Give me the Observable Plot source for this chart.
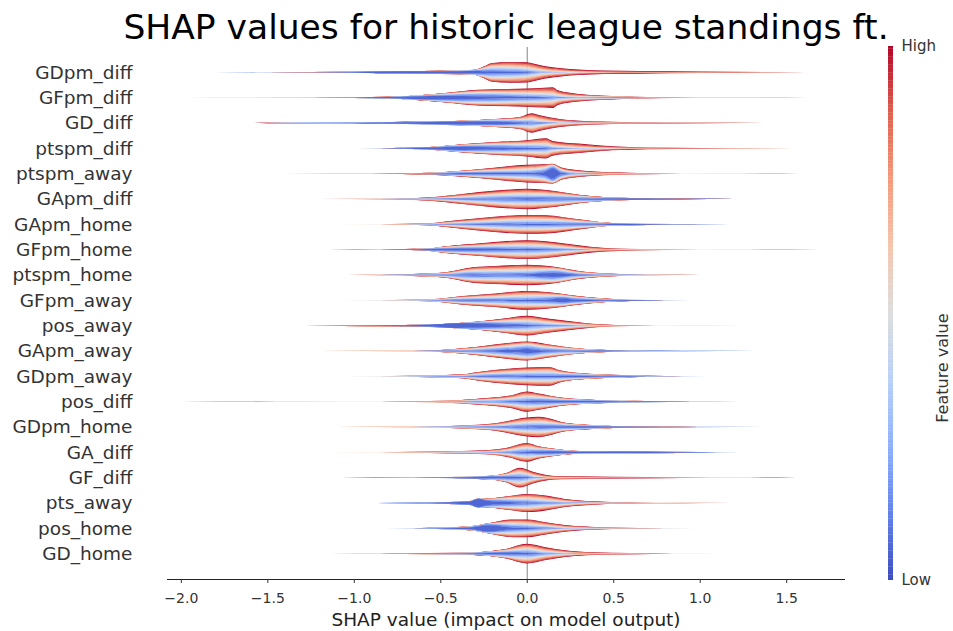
<!DOCTYPE html>
<html>
<head>
<meta charset="utf-8">
<script src="https://cdn.jsdelivr.net/npm/d3@7"></script>
<script src="https://cdn.jsdelivr.net/npm/@observablehq/plot@0.6"></script>
<style>
  html, body { margin: 0; padding: 0; background: #fff; }
  #chart { position: relative; width: 953px; height: 631px; font-family: "DejaVu Sans", sans-serif; }
  #chart svg { position: absolute; top: 0; }
  .txt { position: absolute; white-space: nowrap; line-height: 1; transform: translateX(-50%); }
</style>
</head>
<body>
<div id="chart">
  <div class="txt" id="title" style="left:506px; top:10px; font-size:34.5px; color:#000;">SHAP values for historic league standings ft.</div>
  <div class="txt" id="xlabel" style="left:506px; top:611px; font-size:18.5px; color:#222;">SHAP value (impact on model output)</div>
</div>
<script>
// Features, top to bottom
const features = ["GDpm_diff","GFpm_diff","GD_diff","ptspm_diff","ptspm_away","GApm_diff","GApm_home","GFpm_home","ptspm_home","GFpm_away","pos_away","GApm_away","GDpm_away","pos_diff","GDpm_home","GA_diff","GF_diff","pts_away","pos_home","GD_home"];

// Violin profiles: [SHAP value, relative density, share of low feature values]
const GDpm_diff = [[-2.06,0.002,0.5],[-1.5,0.013,0.7],[-1.0,0.05,0.85],[-0.85,0.12,0.9],[-0.6,0.14,0.88],[-0.4,0.18,0.85],[-0.3,0.25,0.8],[-0.25,0.57,0.62],[-0.2,0.93,0.55],[-0.1,1.03,0.5],[0,1.0,0.45],[0.05,0.83,0.4],[0.1,0.63,0.35],[0.2,0.4,0.3],[0.3,0.27,0.2],[0.45,0.17,0.15],[0.65,0.13,0.1],[1.0,0.07,0.12],[1.4,0.022,0.15],[1.84,0.002,0.3]];
const GFpm_diff = [[-1.97,0.002,0.5],[-1.5,0.01,0.6],[-1.0,0.03,0.8],[-0.8,0.08,0.9],[-0.66,0.2,0.85],[-0.47,0.47,0.72],[-0.28,0.77,0.62],[0,0.9,0.5],[0.1,0.98,0.45],[0.15,1.03,0.4],[0.18,0.72,0.4],[0.3,0.37,0.35],[0.49,0.17,0.5],[0.56,0.12,0.6],[0.7,0.06,0.25],[1.0,0.02,0.2],[1.3,0.01,0.3],[1.62,0.002,0.5]];
const GD_diff = [[-1.97,0.002,0.5],[-1.5,0.013,0.7],[-1.0,0.05,0.85],[-0.85,0.08,0.9],[-0.56,0.14,0.88],[-0.37,0.23,0.85],[-0.18,0.4,0.7],[-0.04,0.6,0.55],[0.03,0.97,0.45],[0.07,0.8,0.4],[0.19,0.4,0.3],[0.38,0.17,0.2],[0.6,0.08,0.12],[1.0,0.03,0.15],[1.4,0.01,0.2],[1.84,0.002,0.4]];
const ptspm_diff = [[-1.11,0.002,0.6],[-0.85,0.02,0.75],[-0.56,0.13,0.85],[-0.37,0.4,0.75],[-0.18,0.63,0.62],[0,0.8,0.52],[0.11,1.0,0.45],[0.15,0.73,0.4],[0.3,0.47,0.3],[0.49,0.2,0.2],[0.7,0.08,0.15],[1.0,0.03,0.15],[1.35,0.01,0.25],[1.73,0.002,0.4]];
const ptspm_away = [[-1.4,0.002,0.5],[-0.9,0.012,0.6],[-0.66,0.05,0.7],[-0.47,0.17,0.68],[-0.28,0.43,0.6],[0,0.87,0.5],[0.1,0.93,0.6],[0.15,0.97,0.8],[0.2,0.6,0.6],[0.3,0.33,0.4],[0.49,0.13,0.3],[0.7,0.05,0.2],[1.1,0.012,0.25],[1.58,0.002,0.4]];
const GApm_diff = [[-1.2,0.002,0.4],[-0.85,0.02,0.3],[-0.56,0.17,0.4],[-0.37,0.5,0.45],[-0.18,0.83,0.5],[0,1.0,0.5],[0.17,0.77,0.52],[0.3,0.43,0.58],[0.46,0.17,0.8],[0.6,0.09,0.88],[0.9,0.04,0.75],[1.2,0.012,0.6],[1.53,0.002,0.5]];
const GApm_home = [[-1.41,0.002,0.4],[-0.85,0.02,0.3],[-0.56,0.1,0.4],[-0.47,0.27,0.45],[-0.28,0.6,0.48],[0,0.93,0.5],[0.11,0.9,0.5],[0.3,0.5,0.55],[0.49,0.13,0.8],[0.7,0.06,0.8],[1.0,0.02,0.65],[1.36,0.002,0.5]];
const GFpm_home = [[-1.14,0.002,0.5],[-0.85,0.02,0.7],[-0.56,0.13,0.8],[-0.47,0.33,0.68],[-0.28,0.6,0.58],[0,0.93,0.5],[0.11,0.83,0.48],[0.22,0.6,0.42],[0.38,0.27,0.25],[0.53,0.12,0.2],[0.8,0.04,0.3],[1.2,0.012,0.3],[1.69,0.002,0.4]];
const ptspm_home = [[-1.04,0.002,0.4],[-0.85,0.02,0.4],[-0.66,0.1,0.5],[-0.47,0.27,0.55],[-0.31,0.77,0.55],[-0.18,0.9,0.5],[0,1.0,0.5],[0.15,0.83,0.65],[0.3,0.4,0.55],[0.49,0.13,0.5],[0.7,0.04,0.4],[1.0,0.012,0.45],[1.34,0.002,0.5]];
const GFpm_away = [[-1.29,0.002,0.4],[-0.85,0.02,0.35],[-0.56,0.1,0.5],[-0.37,0.43,0.55],[-0.18,0.67,0.52],[0,0.93,0.5],[0.11,0.83,0.55],[0.2,0.65,0.68],[0.26,0.5,0.65],[0.46,0.17,0.65],[0.6,0.06,0.8],[0.8,0.02,0.8],[1.1,0.002,0.6]];
const pos_away = [[-1.29,0.002,0.6],[-0.85,0.05,0.85],[-0.56,0.12,0.9],[-0.41,0.25,0.97],[-0.28,0.4,0.82],[-0.12,0.73,0.6],[0,0.97,0.5],[0.11,0.73,0.45],[0.3,0.33,0.35],[0.42,0.13,0.3],[0.6,0.04,0.25],[0.9,0.012,0.3],[1.25,0.002,0.5]];
const GApm_away = [[-1.2,0.002,0.5],[-0.66,0.02,0.5],[-0.47,0.13,0.55],[-0.28,0.43,0.55],[-0.08,0.83,0.6],[0,0.93,0.65],[0.11,0.7,0.55],[0.26,0.33,0.6],[0.42,0.13,0.7],[0.6,0.05,0.8],[0.9,0.02,0.75],[1.33,0.002,0.6]];
const GDpm_away = [[-1.29,0.002,0.4],[-0.85,0.02,0.35],[-0.56,0.1,0.5],[-0.37,0.2,0.52],[-0.28,0.43,0.52],[0,0.87,0.5],[0.13,0.93,0.5],[0.19,0.6,0.55],[0.34,0.27,0.65],[0.49,0.15,0.7],[0.7,0.05,0.6],[0.9,0.02,0.55],[1.19,0.002,0.5]];
const pos_diff = [[-2.0,0.0015,0.4],[-1.3,0.01,0.35],[-0.85,0.02,0.3],[-0.47,0.1,0.45],[-0.28,0.3,0.48],[-0.08,0.67,0.5],[0,1.0,0.5],[0.07,0.8,0.55],[0.2,0.4,0.62],[0.4,0.17,0.75],[0.69,0.06,0.85],[0.95,0.02,0.8],[1.23,0.002,0.6]];
const GDpm_home = [[-1.1,0.002,0.5],[-0.66,0.02,0.5],[-0.37,0.15,0.52],[-0.18,0.37,0.5],[0,0.93,0.5],[0.07,1.0,0.5],[0.22,0.43,0.6],[0.4,0.17,0.75],[0.6,0.07,0.8],[1.0,0.03,0.75],[1.4,0.01,0.7],[1.83,0.002,0.6]];
const GA_diff = [[-1.5,0.002,0.4],[-0.85,0.02,0.25],[-0.47,0.1,0.3],[-0.28,0.17,0.35],[-0.12,0.43,0.45],[0,0.93,0.5],[0.07,0.6,0.58],[0.17,0.33,0.7],[0.3,0.13,0.8],[0.49,0.1,0.88],[0.88,0.06,0.85],[1.1,0.02,0.75],[1.38,0.002,0.6]];
const GF_diff = [[-1.08,0.002,0.5],[-0.66,0.02,0.65],[-0.37,0.1,0.8],[-0.2,0.2,0.78],[-0.12,0.45,0.62],[-0.04,0.97,0.5],[0.04,0.55,0.4],[0.12,0.25,0.25],[0.2,0.15,0.2],[0.49,0.1,0.12],[0.9,0.04,0.15],[1.2,0.012,0.2],[1.56,0.002,0.4]];
const pts_away = [[-0.87,0.002,0.8],[-0.56,0.05,0.9],[-0.33,0.2,0.9],[-0.28,0.45,0.97],[-0.23,0.45,0.8],[-0.1,0.7,0.6],[0,0.9,0.5],[0.11,0.73,0.45],[0.22,0.4,0.4],[0.38,0.17,0.3],[0.6,0.05,0.25],[0.9,0.02,0.3],[1.19,0.002,0.5]];
const pos_home = [[-0.98,0.002,0.5],[-0.66,0.02,0.6],[-0.47,0.1,0.7],[-0.33,0.2,0.75],[-0.22,0.5,0.85],[-0.08,0.87,0.55],[0,0.87,0.5],[0.11,0.6,0.45],[0.22,0.33,0.35],[0.34,0.17,0.3],[0.5,0.06,0.3],[0.8,0.02,0.35],[1.17,0.002,0.5]];
const GD_home = [[-1.14,0.002,0.5],[-0.85,0.02,0.6],[-0.56,0.06,0.7],[-0.31,0.13,0.72],[-0.12,0.47,0.62],[0,0.97,0.5],[0.11,0.63,0.4],[0.22,0.33,0.35],[0.38,0.13,0.25],[0.6,0.06,0.25],[0.85,0.02,0.3],[1.11,0.002,0.5]];

const profiles = [GDpm_diff, GFpm_diff, GD_diff, ptspm_diff, ptspm_away, GApm_diff, GApm_home, GFpm_home, ptspm_home, GFpm_away, pos_away, GApm_away, GDpm_away, pos_diff, GDpm_home, GA_diff, GF_diff, pts_away, pos_home, GD_home];

const xTicks = [-2.0, -1.5, -1.0, -0.5, 0.0, 0.5, 1.0, 1.5];

// coolwarm colour stops
const coolwarm = ["#3b4cc0", "#6282ea", "#8db0fe", "#b8d0f9", "#dddddd", "#f5c4ad", "#f49a7b", "#de604d", "#b40426"];
const colorScale = {
  type: "linear",
  domain: coolwarm.map((_, i) => i / (coolwarm.length - 1)),
  range: coolwarm,
  interpolate: "rgb"
};

// Layered violins: band k holds the samples whose feature value lies between
// t(k-1) and t(k). Bands are drawn outermost first; each reaches slightly under
// its inner neighbour so no hairline gaps show, while thin tails stay faint.
const nLayers = 16;
const halfRow = 0.4;   // half-width of a unit-density violin, in rows
const tuck = 0.012;    // most a band reaches under the next inner band, in rows
const n = features.length;
const bands = [];
features.forEach((name, i) => {
  const row = n - 1 - i;
  for (let k = nLayers - 1; k >= 0; k--) {
    const tIn = k / nLayers, tOut = (k + 1) / nLayers;
    for (const [x, d, lo] of profiles[i]) {
      const g = (1 - lo) / lo;
      const hOut = d * halfRow * Math.pow(tOut, g);
      if (k === 0) {
        bands.push({key: name + "-c", x, y1: row - hOut, y2: row + hOut, t: tOut});
      } else {
        const hIn = d * halfRow * Math.pow(tIn, g);
        const hLow = Math.max(hIn - Math.min(tuck, hIn * 0.15), 0);
        bands.push({key: name + "-u" + k, x, y1: row + hLow, y2: row + hOut, t: tOut});
        bands.push({key: name + "-l" + k, x, y1: row - hOut, y2: row - hLow, t: tOut});
      }
    }
  }
});

const main = Plot.plot({
  width: 870,
  height: 631,
  marginLeft: 167,
  marginRight: 25,
  marginTop: 47,
  marginBottom: 52,
  style: {fontFamily: "DejaVu Sans, sans-serif", color: "#333", background: "transparent"},
  x: {domain: [-2.08, 1.84]},
  y: {domain: [-1, n]},
  color: colorScale,
  marks: [
    Plot.ruleX([0], {stroke: "#999999", strokeWidth: 1.2}),
    Plot.areaY(bands, {x: "x", y1: "y1", y2: "y2", z: "key", fill: "t", curve: "monotone-x"}),
    Plot.ruleY([-1], {stroke: "#222", strokeWidth: 1}),
    Plot.axisX(xTicks, {tickSize: 4, tickPadding: 10, fontSize: 14, tickFormat: d3.format(".1f"), label: null, stroke: "#333"}),
    Plot.axisY(d3.range(n), {tickSize: 0, tickPadding: 35, fontSize: 18.5, tickFormat: i => features[n - 1 - i], label: null})
  ]
});
main.style.left = "0px";

// Vertical colour bar
const steps = d3.range(200).map(i => i / 200);
const bar = Plot.plot({
  width: 83,
  height: 631,
  marginLeft: 18,
  marginRight: 60,
  marginTop: 46,
  marginBottom: 51,
  style: {fontFamily: "DejaVu Sans, sans-serif", color: "#333", background: "transparent", overflow: "visible"},
  x: {domain: [0, 1], axis: null},
  y: {domain: [0, 1], axis: null},
  color: colorScale,
  marks: [
    Plot.rect(steps, {x1: 0, x2: 1, y1: d => d, y2: d => Math.min(1, d + 0.0055), fill: d => d + 0.0025}),
    Plot.text(["High"], {frameAnchor: "top-right", dx: 8, textAnchor: "start", lineAnchor: "middle", fontSize: 15, fill: "#333"}),
    Plot.text(["Low"], {frameAnchor: "bottom-right", dx: 8, textAnchor: "start", lineAnchor: "middle", fontSize: 15, fill: "#333"}),
    Plot.text(["Feature value"], {frameAnchor: "right", dx: 49, rotate: -90, fontSize: 16, fill: "#333"})
  ]
});
bar.style.left = "870px";

const chart = document.getElementById("chart");
chart.appendChild(main);
chart.appendChild(bar);
</script>
</body>
</html>
